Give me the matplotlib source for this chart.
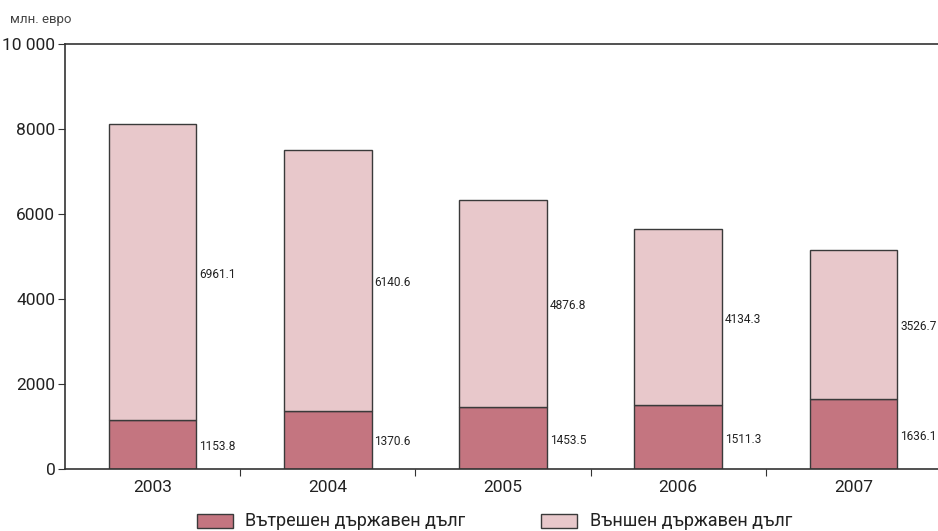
import matplotlib
matplotlib.use("Agg")
import matplotlib.pyplot as plt
from matplotlib.patches import Rectangle
from matplotlib.font_manager import fontManager

years = ["2003", "2004", "2005", "2006", "2007"]
domestic = [1153.8, 1370.6, 1453.5, 1511.3, 1636.1]
external = [6961.1, 6140.6, 4876.8, 4134.3, 3526.7]
yticks = [0, 2000, 4000, 6000, 8000, 10000]
ytick_labels = ["0", "2000", "4000", "6000", "8000", "10 000"]
series_names = ["Вътрешен държавен дълг", "Външен държавен дълг"]

names = {f.name for f in fontManager.ttflist}
base = "Roboto" if "Roboto" in names else "DejaVu Sans"
plt.rcParams["font.family"] = [base, "DejaVu Sans"]

c_dom = "#c47580"
c_ext = "#e8c8cb"
edge = "#3a3a3a"
txt = "#222222"

fig = plt.figure(figsize=(9.38, 5.31), dpi=100)
ax = fig.add_axes([65 / 938, 1 - 469 / 531, 876 / 938, 425 / 531])

x = list(range(len(years)))
w = 0.5
ax.bar(x, domestic, width=w, color=c_dom, edgecolor=edge, linewidth=1.0)
ax.bar(x, external, width=w, bottom=domestic, color=c_ext, edgecolor=edge,
       linewidth=1.0)

for i in x:
    ax.text(i + w / 2 + 0.016, domestic[i] / 2 - 50, f"{domestic[i]:.1f}",
            fontsize=8.6, va="center", ha="left", color=txt)
    ax.text(i + w / 2 + 0.016, domestic[i] + external[i] / 2 - 50, f"{external[i]:.1f}",
            fontsize=8.6, va="center", ha="left", color=txt)

ax.set_xlim(-0.5, len(years) - 0.5)
ax.set_ylim(0, 10000)
ax.set_yticks(yticks)
ax.set_yticklabels(ytick_labels, fontsize=12.5, color=txt)
ax.set_xticks([i + 0.5 for i in x[:-1]])
ax.set_xticklabels([])
ax.set_xticks(x, minor=True)
ax.set_xticklabels(years, minor=True, fontsize=12.5, color=txt)
ax.tick_params(axis="x", which="minor", length=0, pad=8)
ax.tick_params(axis="x", which="major", length=5, direction="out", color="#333333")
ax.tick_params(axis="y", length=5, color="#333333", pad=2)

ax.spines["right"].set_visible(False)
for s in ["left", "bottom", "top"]:
    ax.spines[s].set_color("#333333")
    ax.spines[s].set_linewidth(1.2)

fig.text(10 / 938, 1 - 19 / 531, "млн. евро", fontsize=9.5, ha="left",
         va="center", color="#444444")

# legend drawn as swatches with labels under the axes
for (lx, tx), col, name in zip([(197, 245), (541, 590)], [c_dom, c_ext], series_names):
    fig.patches.append(Rectangle((lx / 938, 1 - 528 / 531), 36 / 938, 14 / 531,
                                 transform=fig.transFigure, facecolor=col,
                                 edgecolor=edge, linewidth=1.0))
    fig.text(tx / 938, 1 - 521 / 531, name, fontsize=13, ha="left",
             va="center", color=txt)

fig.savefig("out.png", dpi=100)
